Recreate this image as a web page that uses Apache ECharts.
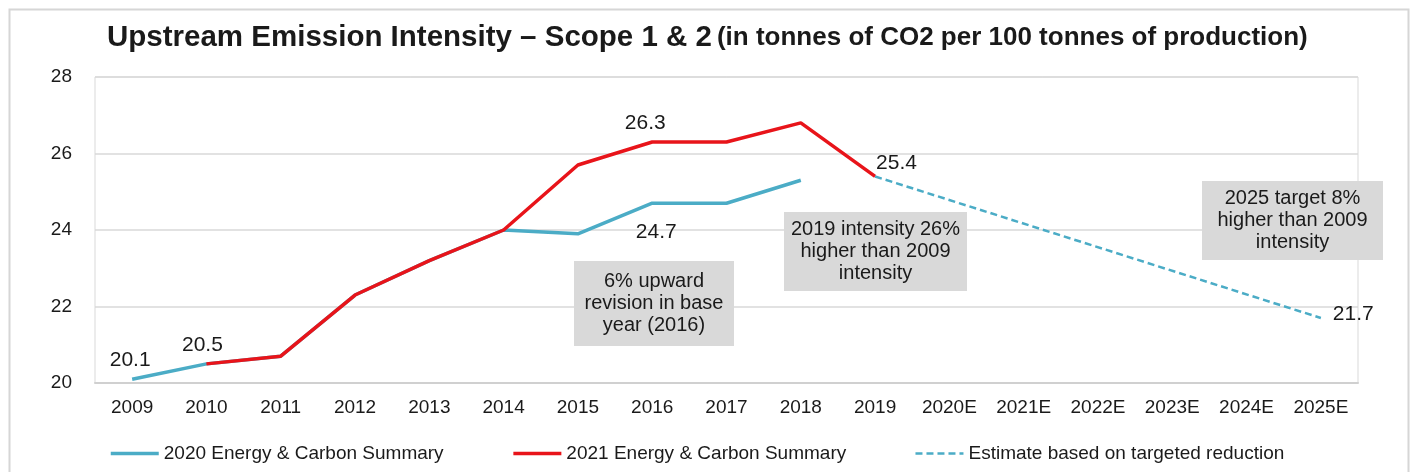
<!DOCTYPE html>
<html>
<head>
<meta charset="utf-8">
<script src="https://cdn.jsdelivr.net/npm/echarts@6/dist/echarts.min.js"></script>
<style>
  html, body { margin: 0; padding: 0; background: #fff; }
  #main { width: 1412px; height: 472px; }
</style>
</head>
<body>
<div id="main"></div>
<script>
let years = ['2009', '2010', '2011', '2012', '2013', '2014', '2015', '2016', '2017', '2018',
             '2019', '2020E', '2021E', '2022E', '2023E', '2024E', '2025E'];
let summary2020 = [20.1, 20.5, 20.7, 22.3, 23.2, 24.0, 23.9, 24.7, 24.7, 25.3,
                   null, null, null, null, null, null, null];
let summary2021 = [null, 20.5, 20.7, 22.3, 23.2, 24.0, 25.7, 26.3, 26.3, 26.8,
                   25.4, null, null, null, null, null, null];
// only the two ends are known, the line joins them
let estimate = [null, null, null, null, null, null, null, null, null, null,
                25.4, null, null, null, null, null, 21.7];
let yTicks = { min: 20, max: 28, step: 2 };

let font = 'Liberation Sans, Arial, sans-serif';
let ink = '#1a1a1a';
let blue = '#4bacc6';
let red = '#e8141a';

// which points carry a value label, and where
function withLabels(arr, spots) {
  return arr.map(function (v, i) {
    if (spots[i] === undefined || v === null) return v;
    return { value: v, label: Object.assign({
      show: true, fontSize: 21, color: ink, fontFamily: font
    }, spots[i]) };
  });
}

let myChart = echarts.init(document.getElementById('main'));

function note(x, y, w, h, text) {
  return {
    type: 'group', left: x, top: y, z: 100,
    children: [
      { type: 'rect', z: 100, shape: { x: 0, y: 0, width: w, height: h }, style: { fill: '#d9d9d9' } },
      { type: 'text', z: 101, x: w / 2, y: h / 2,
        style: { text: text, fill: ink, font: '20px ' + font, align: 'center',
                 verticalAlign: 'middle', lineHeight: 22 } }
    ]
  };
}

let option = {
  backgroundColor: '#fff',
  animation: false,
  textStyle: { fontFamily: font },
  title: {
    left: 107, top: 23, padding: 0,
    text: '{a|Upstream Emission Intensity – Scope 1 & 2} {b|(in tonnes of CO2 per 100 tonnes of production)}',
    textStyle: {
      rich: {
        a: { fontSize: 29.5, fontWeight: 'bold', color: ink, fontFamily: font },
        b: { fontSize: 26, fontWeight: 'bold', color: ink, fontFamily: font }
      }
    }
  },
  legend: {
    left: 104, top: 439, itemGap: 68, itemWidth: 48, itemHeight: 12,
    itemStyle: { opacity: 0 },
    textStyle: { fontSize: 19, color: ink, fontFamily: font },
    data: [
      { name: '2020 Energy & Carbon Summary', lineStyle: { width: 3.5 } },
      { name: '2021 Energy & Carbon Summary', lineStyle: { width: 3.5 } },
      { name: 'Estimate based on targeted reduction', lineStyle: { width: 2.5 } }
    ]
  },
  grid: {
    left: 95, right: 54, top: 77, bottom: 89,
    show: true, borderColor: '#d9d9d9', borderWidth: 1
  },
  xAxis: {
    type: 'category',
    data: years,
    boundaryGap: true,
    axisLine: { lineStyle: { color: '#d0d0d0', width: 2 } },
    axisTick: { show: false },
    axisLabel: { fontSize: 19, color: ink, margin: 15, fontFamily: font }
  },
  yAxis: {
    type: 'value',
    min: yTicks.min, max: yTicks.max, interval: yTicks.step,
    axisLine: { show: false },
    axisTick: { show: false },
    splitLine: { lineStyle: { color: '#d9d9d9', width: 1.5 } },
    axisLabel: { fontSize: 19, color: ink, margin: 23, fontFamily: font }
  },
  series: [
    {
      name: '2020 Energy & Carbon Summary',
      type: 'line',
      symbol: 'circle', symbolSize: 0.01, showSymbol: true,
      lineStyle: { color: blue, width: 3.5 },
      itemStyle: { color: blue },
      data: withLabels(summary2020, {
        0: { position: 'top', distance: 8, offset: [-2, 0] },
        1: { position: 'top', distance: 8, offset: [-4, 0] },
        7: { position: 'bottom', distance: 18, offset: [4, 0] }
      })
    },
    {
      name: '2021 Energy & Carbon Summary',
      type: 'line',
      symbol: 'circle', symbolSize: 0.01, showSymbol: true,
      lineStyle: { color: red, width: 3.5 },
      itemStyle: { color: red },
      data: withLabels(summary2021, {
        7: { position: 'top', distance: 8, offset: [-7, 0] },
        10: { position: 'right', distance: 1, offset: [0, -13] }
      })
    },
    {
      name: 'Estimate based on targeted reduction',
      type: 'line',
      symbol: 'circle', symbolSize: 0.01, showSymbol: true,
      connectNulls: true,
      lineStyle: { color: blue, width: 2.5, type: [7, 4] },
      itemStyle: { color: blue },
      data: withLabels(estimate, {
        16: { position: 'right', distance: 12, offset: [0, -4] }
      })
    }
  ],
  graphic: [
    { type: 'rect', left: 7, top: 7, z: 0, silent: true,
      shape: { x: 0, y: 0, width: 1399, height: 480 },
      style: { fill: 'none', stroke: '#d6d6d6', lineWidth: 2 } },
    note(574, 261, 160, 85, '6% upward\nrevision in base\nyear (2016)'),
    note(784, 212, 183, 79, '2019 intensity 26%\nhigher than 2009\nintensity'),
    note(1202, 181, 181, 79, '2025 target 8%\nhigher than 2009\nintensity')
  ]
};
myChart.setOption(option);
</script>
</body>
</html>
